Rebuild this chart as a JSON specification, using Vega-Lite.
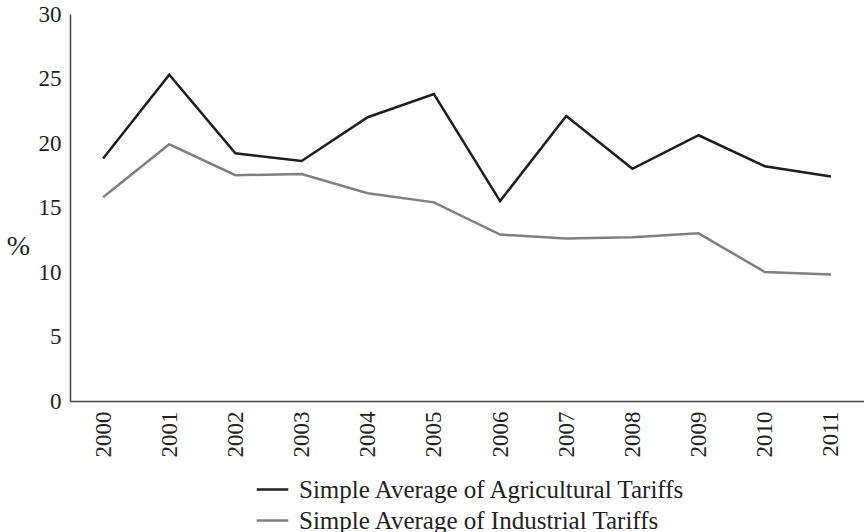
{
  "$schema": "https://vega.github.io/schema/vega-lite/v6.json",
  "autosize": "none",
  "width": 794,
  "height": 387,
  "padding": {"left": 70, "top": 14, "right": 0, "bottom": 131},
  "background": "white",
  "config": {
    "view": {"stroke": null},
    "font": "Liberation Serif",
    "axis": {"grid": false, "ticks": false, "domainColor": "#444", "domainWidth": 1.5, "labelColor": "#222", "labelFont": "Liberation Serif", "labelFontSize": 23, "titleFont": "Liberation Serif", "titleColor": "#222"}
  },
  "data": {"values": [
    {"year": "2000", "series": "Simple Average of  Agricultural Tariffs", "value": 18.8},
    {"year": "2001", "series": "Simple Average of  Agricultural Tariffs", "value": 25.3},
    {"year": "2002", "series": "Simple Average of  Agricultural Tariffs", "value": 19.2},
    {"year": "2003", "series": "Simple Average of  Agricultural Tariffs", "value": 18.6},
    {"year": "2004", "series": "Simple Average of  Agricultural Tariffs", "value": 22.0},
    {"year": "2005", "series": "Simple Average of  Agricultural Tariffs", "value": 23.8},
    {"year": "2006", "series": "Simple Average of  Agricultural Tariffs", "value": 15.5},
    {"year": "2007", "series": "Simple Average of  Agricultural Tariffs", "value": 22.1},
    {"year": "2008", "series": "Simple Average of  Agricultural Tariffs", "value": 18.0},
    {"year": "2009", "series": "Simple Average of  Agricultural Tariffs", "value": 20.6},
    {"year": "2010", "series": "Simple Average of  Agricultural Tariffs", "value": 18.2},
    {"year": "2011", "series": "Simple Average of  Agricultural Tariffs", "value": 17.4},
    {"year": "2000", "series": "Simple Average of  Industrial Tariffs", "value": 15.8},
    {"year": "2001", "series": "Simple Average of  Industrial Tariffs", "value": 19.9},
    {"year": "2002", "series": "Simple Average of  Industrial Tariffs", "value": 17.5},
    {"year": "2003", "series": "Simple Average of  Industrial Tariffs", "value": 17.6},
    {"year": "2004", "series": "Simple Average of  Industrial Tariffs", "value": 16.1},
    {"year": "2005", "series": "Simple Average of  Industrial Tariffs", "value": 15.4},
    {"year": "2006", "series": "Simple Average of  Industrial Tariffs", "value": 12.9},
    {"year": "2007", "series": "Simple Average of  Industrial Tariffs", "value": 12.6},
    {"year": "2008", "series": "Simple Average of  Industrial Tariffs", "value": 12.7},
    {"year": "2009", "series": "Simple Average of  Industrial Tariffs", "value": 13.0},
    {"year": "2010", "series": "Simple Average of  Industrial Tariffs", "value": 10.0},
    {"year": "2011", "series": "Simple Average of  Industrial Tariffs", "value": 9.8}
  ]},
  "mark": {"type": "line", "strokeWidth": 2.5},
  "encoding": {
    "x": {"field": "year", "type": "ordinal", "scale": {"type": "point", "padding": 0.5},
      "axis": {"title": null, "labelAngle": 270, "labelPadding": 10}},
    "y": {"field": "value", "type": "quantitative", "scale": {"domain": [0, 30], "nice": false},
      "axis": {"title": "%", "titleAngle": 0, "titleFontSize": 28, "titleFontWeight": "normal", "titleX": -52, "titleY": 232, "titleAlign": "center", "titleBaseline": "middle", "values": [0,5,10,15,20,25,30], "labelPadding": 9}},
    "color": {"field": "series", "type": "nominal",
      "scale": {"domain": ["Simple Average of  Agricultural Tariffs", "Simple Average of  Industrial Tariffs"], "range": ["#1e1e1e", "#808080"]},
      "legend": {"title": null, "orient": "none", "legendX": 185, "legendY": 458, "direction": "vertical", "symbolType": "stroke", "symbolSize": 1000, "symbolStrokeWidth": 2.5, "labelFontSize": 25, "labelFont": "Liberation Serif", "labelColor": "#222", "labelLimit": 0, "rowPadding": 0, "labelOffset": 9}}
  }
}
